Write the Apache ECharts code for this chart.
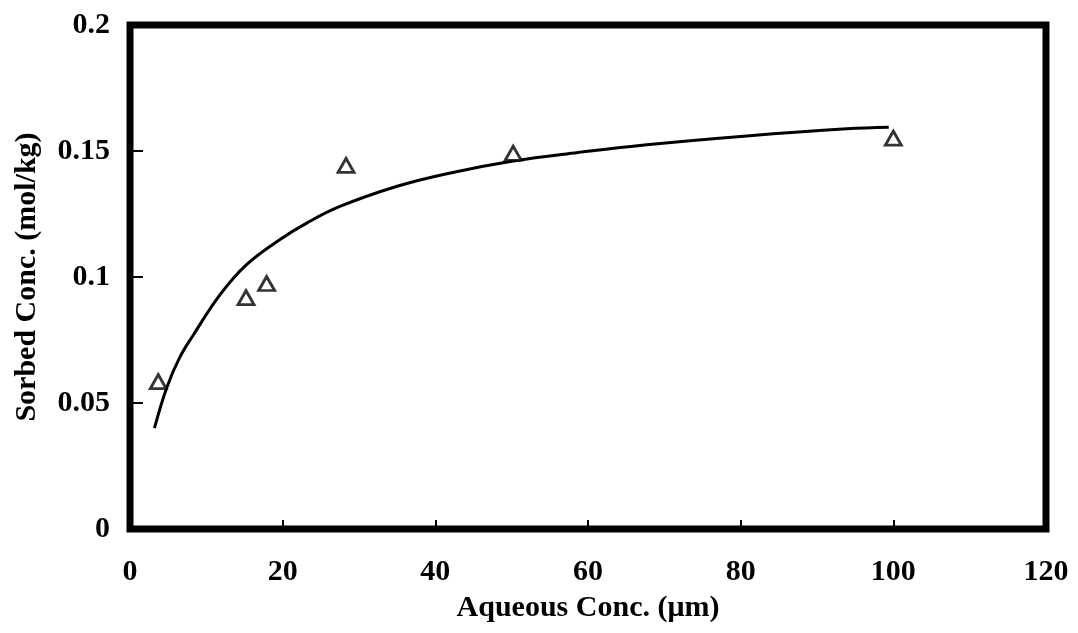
<!DOCTYPE html>
<html>
<head>
<meta charset="utf-8">
<script src="https://cdn.jsdelivr.net/npm/echarts@6/dist/echarts.min.js"></script>
<style>
  html, body { margin: 0; padding: 0; background: #fff; }
  #chart { width: 1078px; height: 633px; }
</style>
</head>
<body>
<div id="chart"></div>
<script>
// Measured sorption points: aqueous concentration (μm) vs sorbed concentration (mol/kg)
const obsX = [3.7, 15.2, 17.9, 28.3, 50.2, 100.0];
const obsY = [0.0585, 0.0918, 0.0974, 0.1443, 0.1491, 0.1551];

// Fitted isotherm curve, sampled along its length
const fitX = [3.2, 4.8, 6.5, 8.3, 11.8, 15.3, 19.7, 23.2, 27.5, 35.0, 41.5, 50.2, 58.7, 67.7, 80.8, 93.9, 99.4];
const fitY = [0.040, 0.056, 0.068, 0.077, 0.093, 0.105, 0.115, 0.1215, 0.128, 0.136, 0.141, 0.146, 0.1494, 0.1525, 0.156, 0.1588, 0.1594];

// Axis tick labels
const xTicks = [0, 20, 40, 60, 80, 100, 120];
const yTicks = [0, 0.05, 0.1, 0.15, 0.2];

const xTitle = 'Aqueous Conc. (μm)';
const yTitle = 'Sorbed Conc. (mol/kg)';

const font = '"Liberation Serif", "DejaVu Serif", serif';

const chart = echarts.init(document.getElementById('chart'), null, { renderer: 'canvas' });

chart.setOption({
  animation: false,
  backgroundColor: '#ffffff',
  grid: {
    left: 130, top: 25, right: 32, bottom: 104,
    show: true,
    borderColor: '#000',
    borderWidth: 7,
    backgroundColor: 'transparent'
  },
  xAxis: {
    type: 'value',
    min: xTicks[0],
    max: xTicks[xTicks.length - 1],
    interval: 20,
    name: xTitle,
    nameLocation: 'middle',
    nameGap: 64,
    nameTextStyle: { fontFamily: font, fontWeight: 'bold', fontSize: 30, color: '#000' },
    axisLine: { show: false },
    axisTick: { show: true, inside: true, length: 9, lineStyle: { color: '#000', width: 2 } },
    splitLine: { show: false },
    axisLabel: {
      margin: 28,
      fontFamily: font, fontWeight: 'bold', fontSize: 30, color: '#000',
      formatter: v => String(v)
    }
  },
  yAxis: {
    type: 'value',
    min: yTicks[0],
    max: yTicks[yTicks.length - 1],
    interval: 0.05,
    name: yTitle,
    nameLocation: 'middle',
    nameGap: 88,
    nameTextStyle: { fontFamily: font, fontWeight: 'bold', fontSize: 30, color: '#000' },
    axisLine: { show: false },
    axisTick: { show: true, inside: true, length: 13, lineStyle: { color: '#000', width: 2 } },
    splitLine: { show: false },
    axisLabel: {
      margin: 20,
      fontFamily: font, fontWeight: 'bold', fontSize: 30, color: '#000',
      formatter: v => String(Math.round(v * 100) / 100)
    }
  },
  series: [
    {
      name: 'fit',
      type: 'line',
      data: fitX.map((x, i) => [x, fitY[i]]),
      smooth: 0.4,
      showSymbol: false,
      lineStyle: { color: '#000', width: 3 },
      z: 2
    },
    {
      name: 'observed',
      type: 'scatter',
      data: obsX.map((x, i) => [x, obsY[i]]),
      symbol: 'triangle',
      symbolSize: [16, 14],
      itemStyle: { color: '#fff', borderColor: '#000', borderWidth: 2.8 },
      z: 3
    }
  ]
});
</script>
</body>
</html>
